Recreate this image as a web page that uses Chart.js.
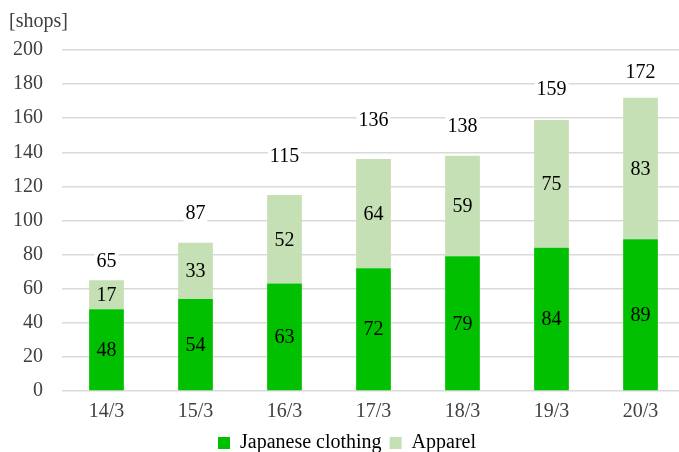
<!DOCTYPE html>
<html>
<head>
<meta charset="utf-8">
<script src="https://cdn.jsdelivr.net/npm/chart.js@4.4.1/dist/chart.umd.min.js"></script>
<style>
    html, body { margin: 0; padding: 0; background: #fff; overflow: hidden; }
    #wrap { width: 688px; height: 463px; }
</style>
</head>
<body>
<div id="wrap"><canvas id="shops"></canvas></div>
<script>
const categories = ["14/3", "15/3", "16/3", "17/3", "18/3", "19/3", "20/3"];
const japaneseClothing = [48, 54, 63, 72, 79, 84, 89];
const apparel = [17, 33, 52, 64, 59, 75, 83];
const yTicks = [0, 20, 40, 60, 80, 100, 120, 140, 160, 180, 200];

const totals = categories.map((c, i) => japaneseClothing[i] + apparel[i]);

// how far each total sits above its bar, px
const totalLift = [19, 30, 39, 39, 30, 31, 26];

const FONT = "'Liberation Serif', 'Times New Roman', serif";

const valueLabels = {
    id: "valueLabels",
    afterDatasetsDraw(chart) {
        const ctx = chart.ctx;
        ctx.save();
        ctx.font = "20px " + FONT;
        ctx.textAlign = "center";
        ctx.textBaseline = "middle";
        ctx.fillStyle = "#000";

        chart.data.datasets.forEach((ds, d) => {
            chart.getDatasetMeta(d).data.forEach((bar, i) => {
                ctx.fillText(ds.data[i], bar.x, (bar.y + bar.base) / 2 + 1);
            });
        });

        const top = chart.getDatasetMeta(1).data;
        top.forEach((bar, i) => {
            const text = String(totals[i]);
            const y = bar.y - totalLift[i];
            const w = ctx.measureText(text).width;
            ctx.fillStyle = "#fff";
            ctx.fillRect(bar.x - w / 2 - 2, y - 10, w + 4, 20);
            ctx.fillStyle = "#000";
            ctx.fillText(text, bar.x, y + 1);
        });
        ctx.restore();
    }
};

new Chart(document.getElementById("shops"), {
    type: "bar",
    data: {
        labels: categories,
        datasets: [
            {
                label: "Japanese clothing",
                data: japaneseClothing,
                backgroundColor: "#00c000",
            },
            {
                label: "Apparel",
                data: apparel,
                backgroundColor: "#c5e0b4",
            },
        ],
    },
    options: {
        responsive: true,
        maintainAspectRatio: false,
        animation: false,
        layout: {padding: {left: 9, right: 3, top: 10, bottom: 0}},
        datasets: {
            bar: {categoryPercentage: 1, barPercentage: 0.39},
        },
        plugins: {
            title: {
                display: true,
                text: "[shops]",
                align: "start",
                color: "#404040",
                font: {family: FONT, size: 20, weight: "normal"},
                padding: {top: 0, bottom: 16},
            },
            legend: {
                position: "bottom",
                labels: {
                    color: "#000",
                    boxWidth: 12,
                    boxHeight: 12,
                    padding: 8,
                    font: {family: FONT, size: 20},
                },
            },
            tooltip: {enabled: false},
        },
        scales: {
            x: {
                stacked: true,
                grid: {display: false},
                border: {display: false},
                ticks: {color: "#404040", font: {family: FONT, size: 20}, padding: 1},
            },
            y: {
                stacked: true,
                min: 0,
                max: 200,
                afterBuildTicks: (scale) => {
                    scale.ticks = yTicks.map(v => ({value: v}));
                },
                afterFit: (scale) => {
                    scale.width = 53;
                },
                grid: {color: "#d9d9d9", lineWidth: 1.5, drawTicks: false},
                border: {display: false},
                ticks: {color: "#404040", font: {family: FONT, size: 20}, padding: 19},
            },
        },
    },
    plugins: [valueLabels],
});
</script>
</body>
</html>
